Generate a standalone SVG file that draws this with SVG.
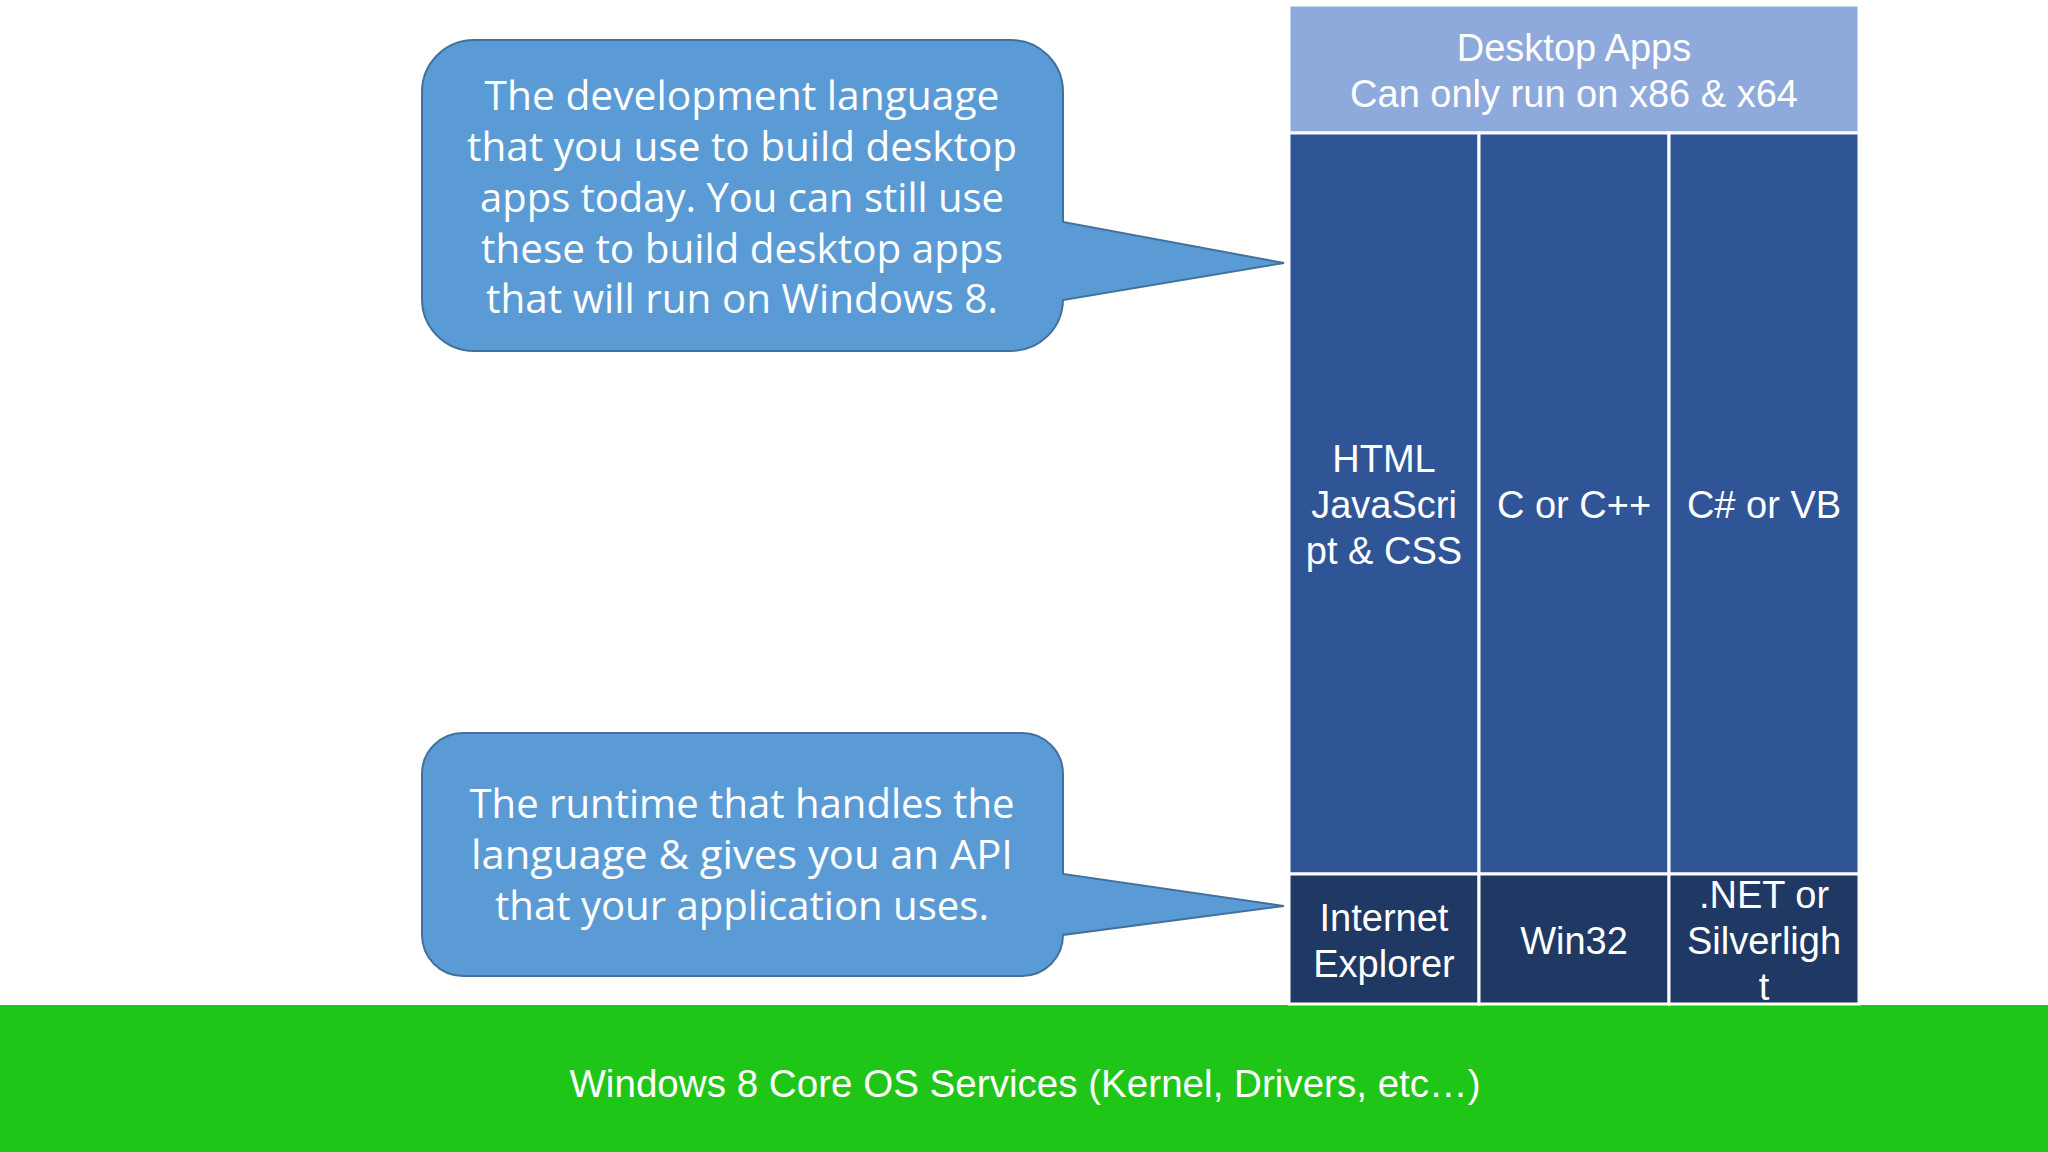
<svg xmlns="http://www.w3.org/2000/svg" width="2048" height="1152" viewBox="0 0 2048 1152">
<style>
.callout{fill:#5B9BD5;stroke:#41719C;stroke-width:2}
.ct{font-family:"Open Sans","Noto Sans","DejaVu Sans",sans-serif;font-size:40px;fill:#FFFFFF;text-anchor:middle}
.cell{stroke:#FFFFFF;stroke-width:3}
.tt{font-family:"Liberation Sans",Arial,sans-serif;font-size:38px;fill:#FFFFFF;text-anchor:middle}
</style>
<rect x="0" y="0" width="2048" height="1152" fill="#FFFFFF"/>
<g id="os-services">
<rect x="0" y="1005" width="2048" height="147" fill="#20C617"/>
<text class="tt" x="1025" y="1097" style="font-size:38.6px">Windows 8 Core OS Services (Kernel, Drivers, etc…)</text>
</g>
<g id="desktop-apps">
<rect class="cell" x="1289" y="5" width="570" height="128" fill="#8EA9DB"/>
<text class="tt" x="1574" y="61">Desktop Apps</text>
<text class="tt" x="1574" y="107">Can only run on x86 &amp; x64</text>
</g>
<g id="html-js-css">
<rect class="cell" x="1289" y="133" width="190" height="741" fill="#2F5597"/>
<text class="tt" x="1384" y="472">HTML</text>
<text class="tt" x="1384" y="518">JavaScri</text>
<text class="tt" x="1384" y="564">pt &amp; CSS</text>
</g>
<g id="c-cpp">
<rect class="cell" x="1479" y="133" width="190" height="741" fill="#2F5597"/>
<text class="tt" x="1574" y="518">C or C++</text>
</g>
<g id="csharp-vb">
<rect class="cell" x="1669" y="133" width="190" height="741" fill="#2F5597"/>
<text class="tt" x="1764" y="518">C# or VB</text>
</g>
<g id="internet-explorer">
<rect class="cell" x="1289" y="874" width="190" height="130" fill="#203864"/>
<text class="tt" x="1384" y="931">Internet</text>
<text class="tt" x="1384" y="977">Explorer</text>
</g>
<g id="win32">
<rect class="cell" x="1479" y="874" width="190" height="130" fill="#203864"/>
<text class="tt" x="1574" y="954">Win32</text>
</g>
<g id="net-silverlight">
<rect class="cell" x="1669" y="874" width="190" height="130" fill="#203864"/>
<text class="tt" x="1764" y="908">.NET or</text>
<text class="tt" x="1764" y="954">Silverligh</text>
<text class="tt" x="1764" y="1000">t</text>
</g>
<g id="callout-language">
<path class="callout" d="M474,40 H1011 A52,52 0 0 1 1063,92 V222 L1284,263 L1063,300 A52,52 0 0 1 1011,351 H474 A52,52 0 0 1 422,299 V92 A52,52 0 0 1 474,40 Z"/>
<text class="ct" x="742" y="110" textLength="515" lengthAdjust="spacingAndGlyphs">The development language</text>
<text class="ct" x="742" y="161" textLength="550" lengthAdjust="spacingAndGlyphs">that you use to build desktop</text>
<text class="ct" x="742" y="212" textLength="524" lengthAdjust="spacingAndGlyphs">apps today. You can still use</text>
<text class="ct" x="742" y="263" textLength="522" lengthAdjust="spacingAndGlyphs">these to build desktop apps</text>
<text class="ct" x="742" y="313" textLength="512" lengthAdjust="spacingAndGlyphs">that will run on Windows 8.</text>
</g>
<g id="callout-runtime">
<path class="callout" d="M463,733 H1022 A41,41 0 0 1 1063,774 V874 L1284,906 L1063,935 A41,41 0 0 1 1022,976 H463 A41,41 0 0 1 422,935 V774 A41,41 0 0 1 463,733 Z"/>
<text class="ct" x="742" y="818" textLength="545" lengthAdjust="spacingAndGlyphs">The runtime that handles the</text>
<text class="ct" x="742" y="869" textLength="542" lengthAdjust="spacingAndGlyphs">language &amp; gives you an API</text>
<text class="ct" x="742" y="920" textLength="494" lengthAdjust="spacingAndGlyphs">that your application uses.</text>
</g>
<g id="connectors"></g>
</svg>
